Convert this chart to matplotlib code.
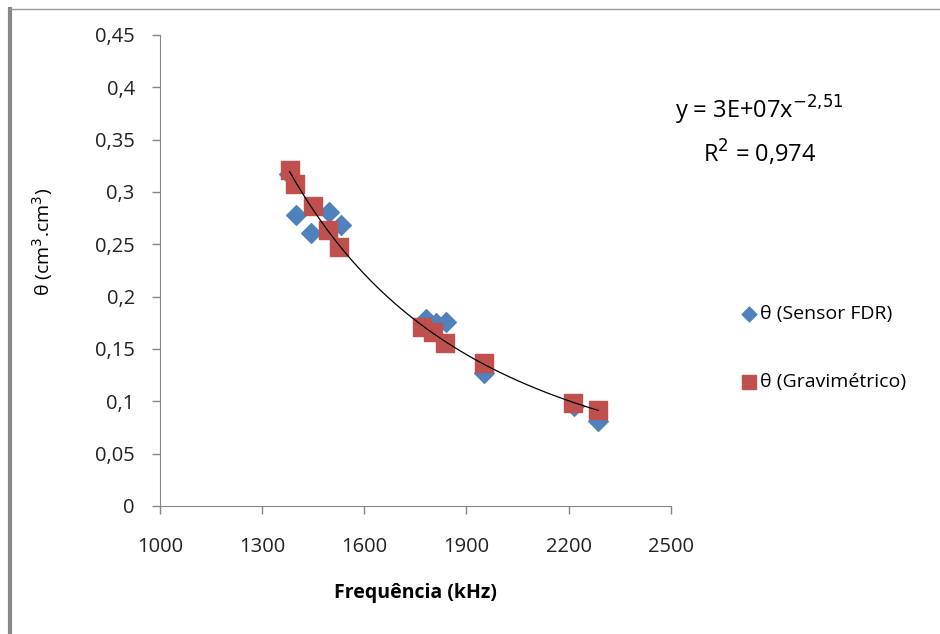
import numpy as np
import matplotlib.pyplot as plt
from matplotlib.ticker import FuncFormatter, MultipleLocator
from matplotlib.lines import Line2D

# theta measured by the FDR sensor
freq_sensor = [1380, 1399, 1443, 1496, 1531, 1780, 1810, 1840, 1951, 2215, 2287]
theta_sensor = [0.317, 0.278, 0.261, 0.281, 0.268, 0.179, 0.175, 0.176, 0.127, 0.096, 0.081]

# theta measured by the gravimetric method
freq_grav = [1381, 1396, 1449, 1493, 1526, 1771, 1803, 1838, 1951, 2213, 2287]
theta_grav = [0.321, 0.308, 0.287, 0.264, 0.247, 0.171, 0.166, 0.156, 0.137, 0.098, 0.092]

x_ticks = [1000, 1300, 1600, 1900, 2200, 2500]
eq_text = 'y = 3E+07x$^{-2{,}51}$\nR$^2$ = 0,974'

plt.rcParams['font.family'] = ['Open Sans', 'DejaVu Sans']

fig = plt.figure(figsize=(9.4, 6.34), dpi=100)
ax = fig.add_axes([0.170, 0.2019, 0.5436, 0.7429])

ax.scatter(freq_sensor, theta_sensor, marker='D', s=100, color='#4F81BD',
           label='θ (Sensor FDR)', zorder=3)
ax.scatter(freq_grav, theta_grav, marker='s', s=160, color='#C0504D',
           label='θ (Gravimétrico)', zorder=4)

# power trendline fitted in log space
b, log_a = np.polyfit(np.log(freq_grav), np.log(theta_grav), 1)
xs = np.linspace(min(freq_grav), max(freq_grav), 200)
ax.plot(xs, np.exp(log_a) * xs ** b, color='black', lw=0.9, zorder=5)

ax.set_xlim(1000, 2500)
ax.set_ylim(0, 0.45)
ax.set_xticks(x_ticks)
ax.yaxis.set_major_locator(MultipleLocator(0.05))


def virgula(v, pos):
    s = ('%.2f' % v).rstrip('0').rstrip('.')
    return s.replace('.', ',')


ax.yaxis.set_major_formatter(FuncFormatter(virgula))
ax.tick_params(labelsize=14.5, colors='#868686', length=6, width=1, labelcolor='#222222')
ax.tick_params(axis='x', pad=16)
ax.tick_params(axis='y', pad=12)
for side in ['top', 'right']:
    ax.spines[side].set_visible(False)
for side in ['left', 'bottom']:
    ax.spines[side].set_color('#868686')

ax.set_xlabel('Frequência (kHz)', fontsize=14, fontweight='bold', labelpad=19)
ax.set_ylabel('θ (cm$^3$.cm$^3$)', fontsize=14)
ax.yaxis.set_label_coords(-0.205, 0.56)

fig.text(0.808, 0.793, eq_text, fontsize=17, ha='center', va='center', linespacing=1.5)

ax.legend(loc='center left', bbox_to_anchor=(1.1, 0.335), frameon=False, fontsize=14,
          labelspacing=2.6, handletextpad=0.05, handlelength=1.0, markerscale=0.75)

# figure border
fig.add_artist(Line2D([0.011, 0.011], [0, 0.986], color='#888888', lw=3))
fig.add_artist(Line2D([0.011, 1.0], [0.986, 0.986], color='#999999', lw=1))

fig.savefig('out.png', dpi=100)
